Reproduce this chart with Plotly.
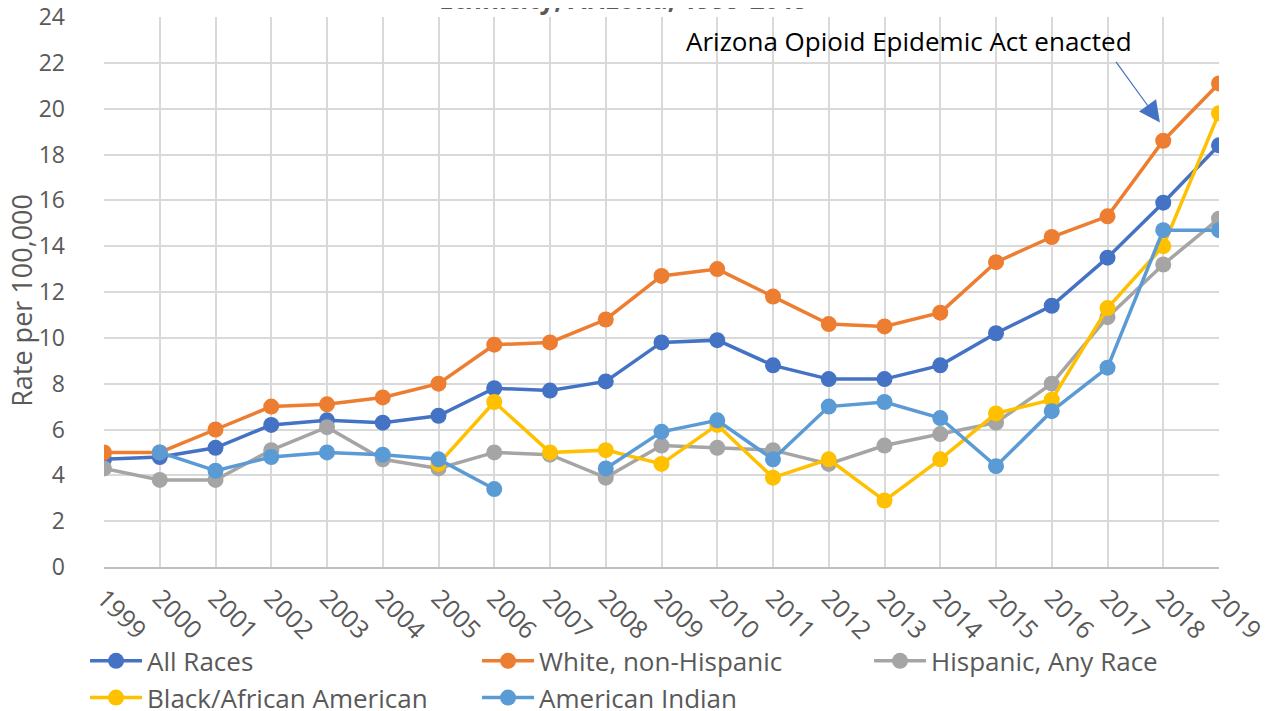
import plotly.graph_objects as go

years = list(range(1999, 2020))
year_labels = [str(y) for y in years]

all_races = [4.7, 4.8, 5.2, 6.2, 6.4, 6.3, 6.6, 7.8, 7.7, 8.1, 9.8, 9.9, 8.8, 8.2, 8.2, 8.8, 10.2, 11.4, 13.5, 15.9, 18.4]
white_nh = [5.0, 5.0, 6.0, 7.0, 7.1, 7.4, 8.0, 9.7, 9.8, 10.8, 12.7, 13.0, 11.8, 10.6, 10.5, 11.1, 13.3, 14.4, 15.3, 18.6, 21.1]
hispanic = [4.3, 3.8, 3.8, 5.1, 6.1, 4.7, 4.3, 5.0, 4.9, 3.9, 5.3, 5.2, 5.1, 4.5, 5.3, 5.8, 6.3, 8.0, 10.9, 13.2, 15.2]
black = [None, None, None, None, None, None, 4.5, 7.2, 5.0, 5.1, 4.5, 6.2, 3.9, 4.7, 2.9, 4.7, 6.7, 7.3, 11.3, 14.0, 19.8]
am_indian = [None, 5.0, 4.2, 4.8, 5.0, 4.9, 4.7, 3.4, None, 4.3, 5.9, 6.4, 4.7, 7.0, 7.2, 6.5, 4.4, 6.8, 8.7, 14.7, 14.7]

series = [
    ("All Races", all_races, "#4472C4"),
    ("White, non-Hispanic", white_nh, "#ED7D31"),
    ("Hispanic, Any Race", hispanic, "#A5A5A5"),
    ("Black/African American", black, "#FFC000"),
    ("American Indian", am_indian, "#5B9BD5"),
]

FONT = "Open Sans, sans-serif"
GREY = "#595959"

fig = go.Figure()
for name, vals, color in series:
    fig.add_trace(go.Scatter(
        x=years, y=vals, name=name, mode="lines+markers",
        line=dict(color=color, width=3.5),
        marker=dict(color=color, size=16),
        connectgaps=False,
    ))

# arrow pointing at 2018
fig.add_annotation(
    x=2017.94, y=19.4, xref="x", yref="y",
    ax=-45, ay=-62, text="", showarrow=True,
    arrowhead=2, arrowsize=3.5, arrowwidth=1.2, arrowcolor="#4472C4",
)
fig.add_annotation(
    x=2013.44, y=22.95, xref="x", yref="y", text="Arizona Opioid Epidemic Act enacted",
    showarrow=False, font=dict(size=26, color="#000000", family=FONT),
)
# title, mostly cut off at the top
fig.add_annotation(
    x=0.466, y=0.997, xref="paper", yref="paper", yanchor="bottom",
    text="<b>Ethnicity, Arizona, 1999-2019</b>", showarrow=False,
    font=dict(size=26, color=GREY, family=FONT),
)
# y axis title
fig.add_annotation(
    x=-0.0735, y=0.484, xref="paper", yref="paper", textangle=-90,
    xanchor="center", yanchor="middle",
    text="Rate per 100,000", showarrow=False,
    font=dict(size=27, color=GREY, family=FONT),
)

fig.update_xaxes(
    range=[1999, 2019], tickvals=years, ticktext=year_labels, tickangle=45,
    showgrid=True, gridcolor="#D9D9D9", gridwidth=1.5,
    showline=True, linecolor="#BFBFBF", linewidth=1.5, zeroline=False,
    tickfont=dict(size=25, color=GREY, family=FONT), ticks="",
    ticklabelstandoff=5, ticklabeloverflow="allow",
)
fig.update_yaxes(
    range=[0, 24], dtick=2, showgrid=True, gridcolor="#D9D9D9", gridwidth=1.5,
    zeroline=False, showline=False, ticklabelstandoff=38, ticklabeloverflow="allow",
    tickfont=dict(size=23, color=GREY, family=FONT),
)

fig.update_layout(
    width=1275, height=711,
    margin=dict(l=96, r=64, t=9, b=152, autoexpand=False),
    plot_bgcolor="white", paper_bgcolor="white",
    font=dict(family=FONT, color=GREY),
    showlegend=True,
    legend=dict(
        orientation="h", x=-0.017, xanchor="left", y=-0.128, yanchor="top",
        entrywidth=325, entrywidthmode="pixels", tracegroupgap=0,
        bgcolor="rgba(0,0,0,0)",
        font=dict(size=26, color=GREY, family=FONT),
        itemwidth=52,
    ),
)

fig.write_html("out.html")
